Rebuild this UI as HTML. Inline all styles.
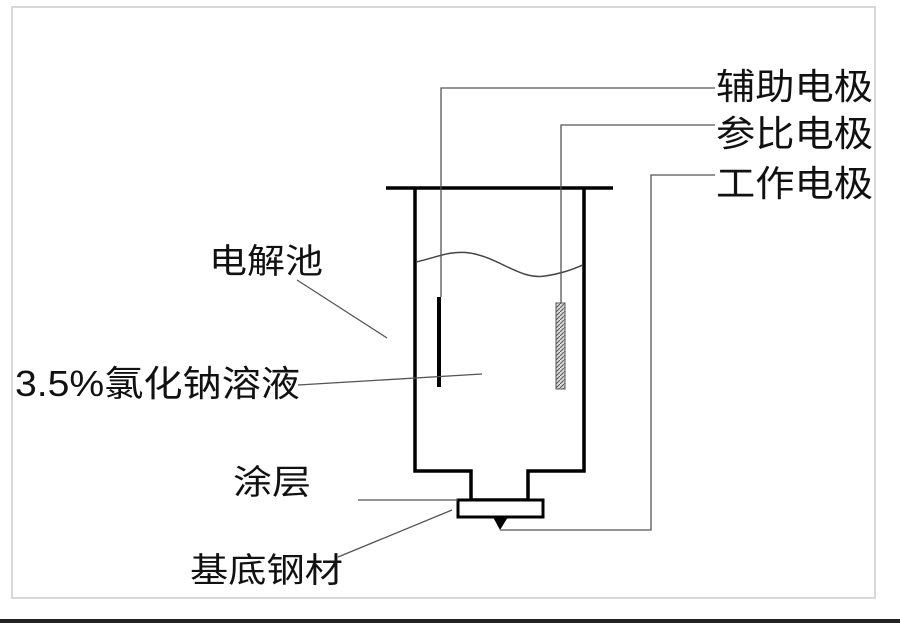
<!DOCTYPE html>
<html><head><meta charset="utf-8"><style>
html,body{margin:0;padding:0;background:#fff;}
body{width:900px;height:623px;overflow:hidden;position:relative;}
svg{position:absolute;left:0;top:0;}
text{font-family:"Liberation Sans","Noto Sans CJK SC",sans-serif;fill:#111;}
</style></head><body>
<svg width="900" height="623" viewBox="0 0 900 623">
<rect x="0" y="0" width="900" height="623" fill="#fff"/>
<rect x="12" y="7" width="863" height="591" fill="none" stroke="#d8d8d8" stroke-width="2"/>
<rect x="0" y="619" width="900" height="4" fill="#222"/>
<!-- lid -->
<line x1="386" y1="188" x2="613" y2="188" stroke="#000" stroke-width="3.5"/>
<!-- container -->
<polyline points="415,188 415,471 471,471 471,500 528,500 528,471 584,471 584,188" fill="none" stroke="#000" stroke-width="3.5"/>
<!-- plate -->
<rect x="458" y="500" width="85" height="17" fill="#fff" stroke="#000" stroke-width="3"/>
<polygon points="493,517 508,517 500,530" fill="#000"/>
<!-- liquid surface -->
<path d="M416,262 C435,258 450,250 470,253 C500,258 520,280 545,276 C565,273 575,268 583,265" fill="none" stroke="#444" stroke-width="1.5"/>
<!-- aux electrode -->
<polyline points="715,88 441,88 441,297" fill="none" stroke="#555" stroke-width="1.3"/>
<line x1="439" y1="297" x2="439" y2="387" stroke="#000" stroke-width="4"/>
<!-- ref electrode -->
<polyline points="715,125 561,125 561,303" fill="none" stroke="#555" stroke-width="1.3"/>
<defs><pattern id="h" width="4" height="4" patternUnits="userSpaceOnUse"><rect width="4" height="4" fill="#ddd"/><path d="M0,4 L4,0" stroke="#555" stroke-width="1"/></pattern></defs>
<rect x="556" y="303" width="9" height="86" fill="url(#h)" stroke="#555" stroke-width="1"/>
<!-- working electrode -->
<polyline points="715,175 651,175 651,530 500,530" fill="none" stroke="#555" stroke-width="1.3"/>
<!-- leaders -->
<line x1="297" y1="280" x2="387" y2="338" stroke="#555" stroke-width="1.3"/>
<line x1="298" y1="385" x2="482" y2="374" stroke="#555" stroke-width="1.3"/>
<line x1="358" y1="500" x2="458" y2="500" stroke="#555" stroke-width="1.3"/>
<line x1="338" y1="557" x2="452" y2="510" stroke="#555" stroke-width="1.3"/>
<!-- labels -->
<text x="716" y="99" font-size="36" textLength="157" lengthAdjust="spacingAndGlyphs">辅助电极</text>
<text x="716" y="146" font-size="36" textLength="157" lengthAdjust="spacingAndGlyphs">参比电极</text>
<text x="716" y="196" font-size="36" textLength="157" lengthAdjust="spacingAndGlyphs">工作电极</text>
<text x="209" y="273" font-size="34" textLength="114" lengthAdjust="spacingAndGlyphs">电解池</text>
<text x="15" y="396" font-size="36" textLength="285" lengthAdjust="spacingAndGlyphs">3.5%氯化钠溶液</text>
<text x="233" y="494" font-size="34" textLength="78" lengthAdjust="spacingAndGlyphs">涂层</text>
<text x="190" y="582" font-size="34" textLength="153" lengthAdjust="spacingAndGlyphs">基底钢材</text>
</svg>
</body></html>
